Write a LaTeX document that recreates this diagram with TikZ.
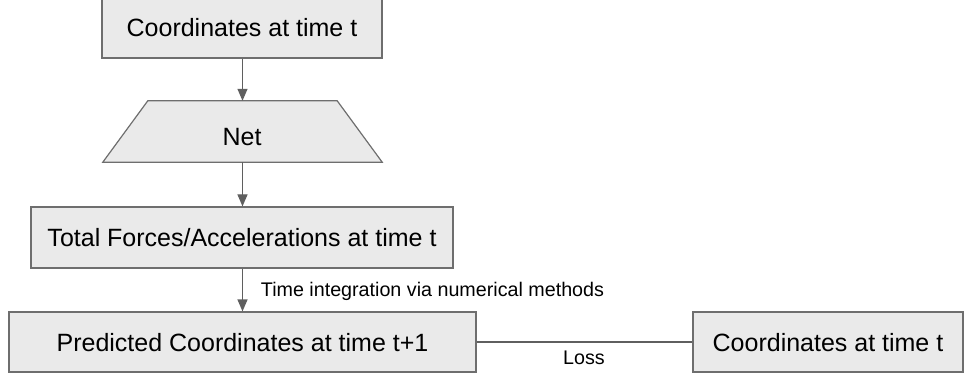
\documentclass[tikz,border=0pt]{standalone}
\usepackage{fontspec}
\setmainfont{Liberation Sans}
\usetikzlibrary{arrows.meta}
\definecolor{boxfill}{HTML}{EAEAEA}
\definecolor{boxline}{HTML}{6E6E6E}
\definecolor{linkgray}{HTML}{5F5F5F}
\tikzset{
  box/.style={draw=boxline, fill=boxfill, line width=1.2pt, inner sep=0pt,
    font=\fontsize{25}{30}\selectfont, text height=18pt, text depth=0pt},
  lbl/.style={inner sep=0pt, font=\fontsize{19.7}{23}\selectfont, text height=14pt, text depth=0pt},
  flow/.style={draw=linkgray, line width=1.2pt, -{Triangle[length=12pt,width=10pt]}},
  link/.style={draw=linkgray, line width=1.2pt}
}
\begin{document}
\begin{tikzpicture}[x=1pt,y=-1pt]
  \useasboundingbox (0,0) rectangle (967,374);
  % input coordinates
  \node[box, minimum width=280pt, minimum height=60pt] (coords) at (242,28) {Coordinates at time t};
  % network block (trapezoid drawn around an invisible node)
  \node[inner sep=0pt, minimum width=279pt, minimum height=61pt] (net) at (242.5,131.5) {};
  \filldraw[draw=boxline, fill=boxfill, line width=1.2pt]
    (net.south west) -- (net.south east) -- ([xshift=-45pt]net.north east) -- ([xshift=45pt]net.north west) -- cycle;
  \node[inner sep=0pt, font=\fontsize{25}{30}\selectfont, text height=18pt, text depth=0pt] (nettext) at (242,136.5) {Net};
  % forces
  \node[box, minimum width=422pt, minimum height=61pt] (forces) at (242,237.5) {Total Forces/Accelerations at time t};
  % prediction
  \node[box, minimum width=467pt, minimum height=60pt] (pred) at (242.5,342) {Predicted Coordinates at time t+1};
  % target
  \node[box, minimum width=270pt, minimum height=60pt] (target) at (828,342) {Coordinates at time t};
  % connectors
  \draw[flow] (coords.south -| net.north) -- (net.north);
  \draw[flow] (net.south) -- (net.south |- forces.north);
  \draw[flow] (forces.south -| net.south) -- (net.south |- pred.north);
  \draw[link] (pred.east) -- (target.west);
  % labels
  \node[lbl] (integ) at (432.5,289) {Time integration via numerical methods};
  \node[lbl] (loss) at (584,357) {Loss};
\end{tikzpicture}
\end{document}
